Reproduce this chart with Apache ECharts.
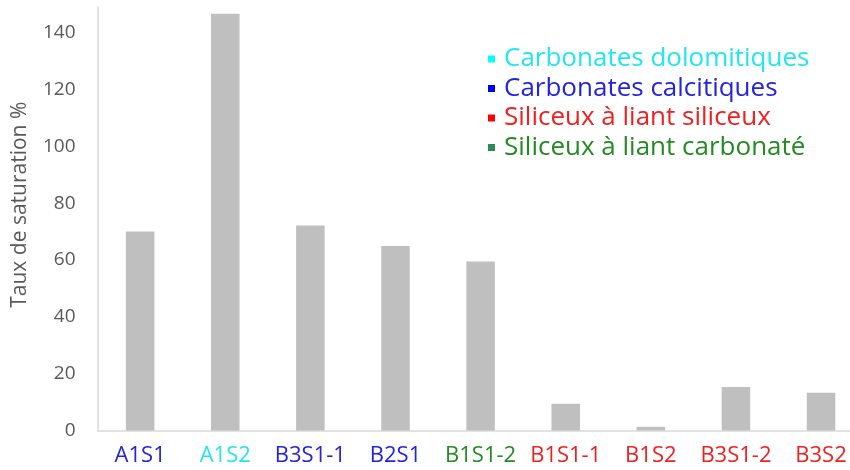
<!DOCTYPE html>
<html>
<head>
<meta charset="utf-8">
<script src="https://cdn.jsdelivr.net/npm/echarts@6/dist/echarts.min.js"></script>
<style>
  html, body { margin: 0; padding: 0; background: #fff; }
  #chart { width: 850px; height: 470px; }
</style>
</head>
<body>
<div id="chart"></div>
<script>
// Samples and their saturation rate (%)
const categories = ['A1S1', 'A1S2', 'B3S1-1', 'B2S1', 'B1S1-2', 'B1S1-1', 'B1S2', 'B3S1-2', 'B3S2'];
const saturation = [70.0, 146.6, 72.1, 64.9, 59.5, 9.4, 1.3, 15.3, 13.3];
// Rock family of each sample (index into families)
const sampleFamily = [1, 0, 1, 1, 3, 2, 2, 2, 2];
const families = ['Carbonates dolomitiques', 'Carbonates calcitiques', 'Siliceux à liant siliceux', 'Siliceux à liant carbonaté'];
const familyText = ['#22e6ee', '#2323e0', '#f02020', '#228b22'];
const familyMarker = ['#00ffff', '#0000ff', '#ff0000', '#2e8b57'];
const yTicks = [0, 20, 40, 60, 80, 100, 120, 140];

const font = '"Open Sans", Lato, sans-serif';
const chart = echarts.init(document.getElementById('chart'));

// Empty series that only feed the family legend
const familySeries = families.map((name, i) => ({
  name: name,
  type: 'line',
  data: [],
  color: familyMarker[i]
}));

chart.setOption({
  animation: false,
  grid: { left: 97.6, width: 766, top: 7, bottom: 39.5, outerBoundsMode: 'none', containLabel: false },
  legend: {
    orient: 'vertical',
    left: 483,
    top: 41,
    icon: 'rect',
    itemWidth: 7,
    itemHeight: 7,
    itemGap: 3.5,
    data: families.map((name, i) => ({
      name: name,
      textStyle: { color: familyText[i] }
    })),
    textStyle: { fontFamily: font, fontSize: 26, lineHeight: 26, padding: [0, 0, 0, 4] }
  },
  xAxis: {
    type: 'category',
    data: categories,
    axisLine: { lineStyle: { color: '#d9d9d9', width: 1.5 } },
    axisTick: { show: false },
    axisLabel: {
      interval: 0,
      margin: 14,
      fontFamily: font,
      fontSize: 22,
      color: (value, idx) => familyText[sampleFamily[idx]]
    }
  },
  yAxis: {
    type: 'value',
    min: 0,
    max: 149,
    interval: 20,
    name: 'Taux de saturation %',
    nameLocation: 'middle',
    nameGap: 67,
    nameTextStyle: { fontFamily: font, fontSize: 21, color: '#595959', padding: [0, 0, 0, 28] },
    axisLine: { show: true, lineStyle: { color: '#d9d9d9', width: 1.5 } },
    axisTick: { show: false },
    splitLine: { show: false },
    axisLabel: {
      margin: 22,
      fontFamily: font,
      fontSize: 19,
      color: '#595959',
      formatter: v => (yTicks.indexOf(v) >= 0 ? String(v) : '')
    }
  },
  series: [
    {
      name: 'Taux de saturation',
      type: 'bar',
      data: saturation,
      barWidth: '33.5%',
      itemStyle: { color: '#bfbfbf' }
    }
  ].concat(familySeries)
});
</script>
</body>
</html>
